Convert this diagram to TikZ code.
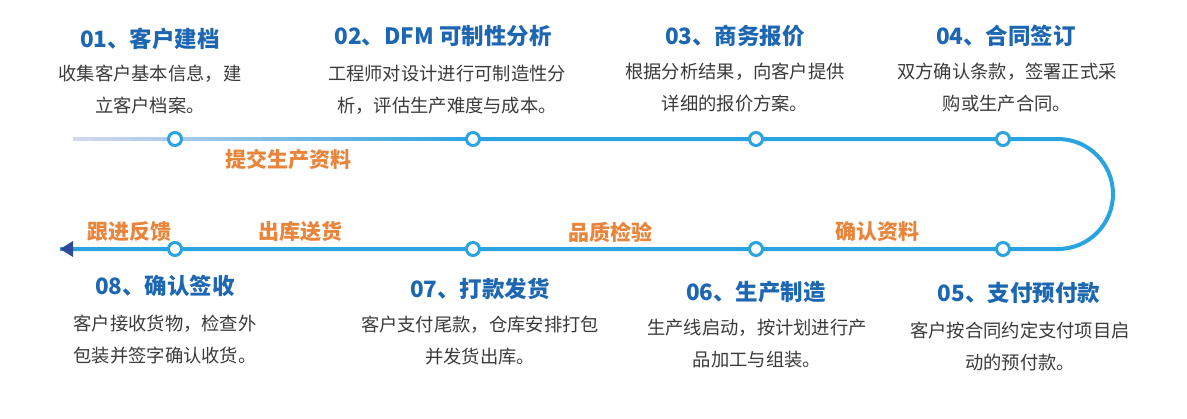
\documentclass[tikz,border=0pt]{standalone}
\usepackage{fontspec}
\setmainfont{Noto Sans CJK SC}
\usetikzlibrary{arrows.meta,calc}

\definecolor{lineblue}{HTML}{29A4E0}
\definecolor{lavender}{HTML}{D3D8EE}
\definecolor{titleblue}{HTML}{1D67B2}
\definecolor{tagorange}{HTML}{E9843A}
\definecolor{arrowblue}{HTML}{2D4A9B}
\definecolor{desctext}{HTML}{3A3A3A}

\begin{document}
\begin{tikzpicture}[x=1pt,y=-1pt,
  dot/.style={circle,draw=lineblue,line width=3pt,fill=white,inner sep=0pt,minimum size=13pt},
  title/.style={text=titleblue,font=\fontsize{22.5}{26}\selectfont\bfseries},
  desc/.style={text=desctext,font=\fontsize{18.3}{32}\selectfont,align=center},
  tag/.style={text=tagorange,font=\fontsize{21}{24}\selectfont\bfseries}]

\useasboundingbox (0,0) rectangle (1187,418);

% timeline
\coordinate (s) at (73,139);
\coordinate (m) at (470,139);
\coordinate (r) at (1058,139);
\coordinate (e) at (60,249);
\foreach \i in {0,...,39}
  \pgfmathsetmacro{\pct}{2.5*\i}
  \draw[lineblue!\pct!lavender,line width=4pt] ($(s)+(9.925*\i,0)$) -- ++(10.5,0);
\draw[lineblue,line width=4pt] (m) -- (r) arc[start angle=-90,end angle=90,radius=55]
  -- (e);
\draw[lineblue,line width=4pt,-{Triangle[length=13pt,width=15pt,color=arrowblue]}]
  (80,249) -- (e);

\foreach \n/\x in {1/175,2/473,3/756,4/1003}
  \node[dot] (t\n) at (\x,139) {};
\foreach \n/\x in {8/175,7/473,6/756,5/1003}
  \node[dot] (b\n) at (\x,249) {};

% top row
\node[title] (h1) at (150,39) {01、客户建档};
\node[title] (h2) at (443,36) {02、DFM 可制性分析};
\node[title] (h3) at (735,36) {03、商务报价};
\node[title] (h4) at (1006,36) {04、合同签订};

\node[desc] (p1) at (150,90) {收集客户基本信息，建\\立客户档案。};
\node[desc] (p2) at (447,90) {工程师对设计进行可制造性分\\析，评估生产难度与成本。};
\node[desc] (p3) at (735,88) {根据分析结果，向客户提供\\详细的报价方案。};
\node[desc] (p4) at (1007,88) {双方确认条款，签署正式采\\购或生产合同。};

% bottom row
\node[title] (h8) at (165,286) {08、确认签收};
\node[title] (h7) at (480,289) {07、打款发货};
\node[title] (h6) at (756,292) {06、生产制造};
\node[title] (h5) at (1019,293) {05、支付预付款};

\node[desc,align=left,anchor=west] (p8) at (70,340) {客户接收货物，检查外\\包装并签字确认收货。};
\node[desc] (p7) at (480,341) {客户支付尾款，仓库安排打包\\并发货出库。};
\node[desc] (p6) at (757,344) {生产线启动，按计划进行产\\品加工与组装。};
\node[desc] (p5) at (1020,346) {客户按合同约定支付项目启\\动的预付款。};

% labels on the line
\node[tag] (l1) at (288,160) {提交生产资料};
\node[tag] (l2) at (129,232) {跟进反馈};
\node[tag] (l3) at (300,232) {出库送货};
\node[tag] (l4) at (610,232) {品质检验};
\node[tag] (l5) at (877,232) {确认资料};
\end{tikzpicture}
\end{document}
